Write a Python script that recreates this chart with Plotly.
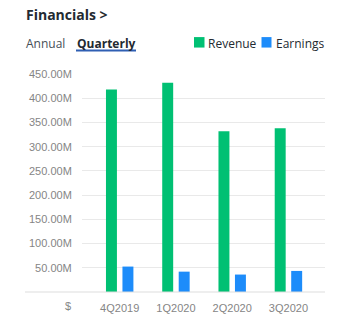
import plotly.graph_objects as go

categories = ["4Q2019", "1Q2020", "2Q2020", "3Q2020"]
revenue = [418e6, 432e6, 332e6, 338e6]
earnings = [52.5e6, 42e6, 36e6, 43.5e6]
tick_vals = [50e6, 100e6, 150e6, 200e6, 250e6, 300e6, 350e6, 400e6, 450e6]
tick_text = ["50.00M", "100.00M", "150.00M", "200.00M", "250.00M", "300.00M", "350.00M", "400.00M", "450.00M"]

GREEN = "#00C073"
BLUE = "#1D8CFA"
TICK = "#858585"

W, H = 343, 332
L, R = 82, 325
T, B = 74, 292.5

def px(x):
    return (x - L) / (R - L)

def py(y):
    return (B - y) / (B - T)

fig = go.Figure()
fig.add_bar(x=categories, y=revenue, name="Revenue", marker_color=GREEN, marker_line_width=0)
fig.add_bar(x=categories, y=earnings, name="Earnings", marker_color=BLUE, marker_line_width=0)

ann = []
def text(x, y, s, size=12, color="#464E56", bold=False, xanchor="left", family="Open Sans"):
    ann.append(dict(x=px(x), y=py(y), xref="paper", yref="paper", text=(f"<b>{s}</b>" if bold else s),
                    showarrow=False, xanchor=xanchor, yanchor="middle",
                    font=dict(family=family, size=size, color=color)))

text(24, 14, "Financials &gt;", size=14, color="#232A31", bold=True)
text(24, 43, "Annual", size=12, color="#464E56")
text(75, 43, "Quarterly", size=12, color="#232A31", bold=True)
text(206, 43, "Revenue", size=12, color="#232A31")
text(274, 43, "Earnings", size=12, color="#232A31")
text(68, 307, "$", size=11, color=TICK, xanchor="center", family="Liberation Sans")

shapes = [
    dict(type="line", xref="paper", yref="paper", x0=px(76), x1=px(136), y0=py(50.5), y1=py(50.5),
         line=dict(color="#2F5FB3", width=2)),
    dict(type="rect", xref="paper", yref="paper", x0=px(194), x1=px(204.5), y0=py(37), y1=py(47.5),
         fillcolor=GREEN, line_width=0),
    dict(type="rect", xref="paper", yref="paper", x0=px(261.5), x1=px(271.5), y0=py(37), y1=py(47.5),
         fillcolor=BLUE, line_width=0),
    dict(type="line", xref="paper", yref="paper", x0=px(25), x1=1, y0=0, y1=0,
         line=dict(color="#DDDDDD", width=1)),
]

fig.update_layout(
    width=W, height=H,
    margin=dict(l=L, r=W - R, t=T, b=H - B, pad=0),
    paper_bgcolor="white", plot_bgcolor="white",
    barmode="group", bargap=0.414, bargroupgap=0.335,
    showlegend=False,
    annotations=ann, shapes=shapes,
    xaxis=dict(range=[-0.67, 3.65], showgrid=False, zeroline=False, showline=False,
               ticks="outside", ticklen=6, tickcolor="rgba(0,0,0,0)",
               tickfont=dict(family="Liberation Sans", size=11, color=TICK), fixedrange=True),
    yaxis=dict(range=[0, 450e6], tickvals=tick_vals, ticktext=tick_text,
               showgrid=True, gridcolor="#E9E9E9", gridwidth=1, zeroline=False, showline=False,
               ticks="outside", ticklen=7, tickcolor="rgba(0,0,0,0)",
               tickfont=dict(family="Liberation Sans", size=11, color=TICK), fixedrange=True),
)

fig.write_html("out.html", config={"displayModeBar": False})
